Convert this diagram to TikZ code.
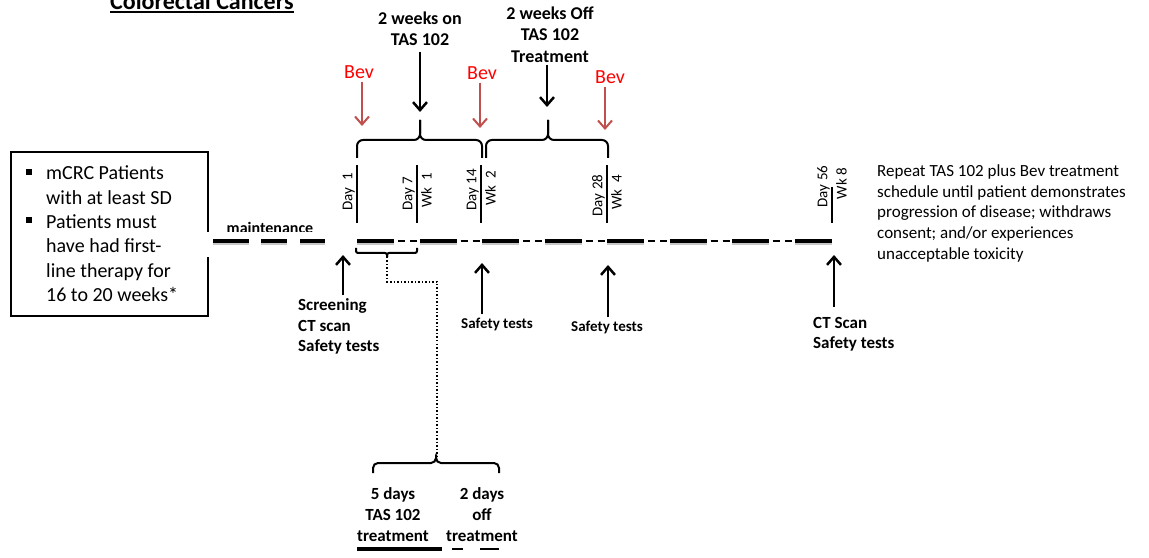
\documentclass[tikz,border=0pt]{standalone}
\usepackage{fontspec}
\setmainfont{Carlito}
\usetikzlibrary{arrows.meta}
\definecolor{bevtext}{HTML}{FF0000}
\definecolor{bevline}{HTML}{C0504D}
\newcommand\fsz[2]{\fontsize{#1bp}{#2bp}\selectfont}
\begin{document}
\begin{tikzpicture}[x=1bp,y=-1bp,
    lbl/.style={font=\bfseries\fsz{17}{20.5}, align=center, inner sep=0pt},
    toplbl/.style={font=\bfseries\fsz{18}{21.5}, align=center, inner sep=0pt},
    bevlbl/.style={font=\fsz{20}{24}, text=bevtext, inner sep=0pt},
    daylbl/.style={font=\fsz{15}{18}, rotate=90, inner sep=0pt},
    boxtxt/.style={font=\fsz{20}{24.4}, align=left, inner sep=0pt, anchor=west},
    bulletsq/.style={fill=black, minimum size=6bp, inner sep=0pt},
    blkarrow/.style={-{Straight Barb[length=8bp,width=14bp]}, line width=2.5bp},
    bevarrow/.style={-{Straight Barb[length=8bp,width=14bp]}, line width=2bp, draw=bevline},
    tlbrace/.style={line width=2bp, rounded corners=6bp},
    daytick/.style={line width=2bp},
    seg/.style={line width=4bp},
    segshadow/.style={line width=3bp, black!22},
    dsh/.style={line width=2.5bp},
  ]
  \useasboundingbox (0,0) rectangle (1149,558);

  % Title, cut by the page edge
  \node[font=\bfseries\fsz{24}{28}, anchor=base west, inner sep=0pt] (title) at (110,10) {Colorectal Cancers};
  \draw[line width=2bp] ([yshift=-2.5bp]title.base west) -- ([yshift=-2.5bp]title.base east);

  % Eligibility box
  \node[draw, line width=2bp, minimum width=197bp, minimum height=164bp, inner sep=0pt] (crit) at (109.5,234) {};
  \node[bulletsq] (sq1) at (28.5,172) {};
  \node[boxtxt] (c1) at (46,185) {mCRC Patients\\with at least SD};
  \node[bulletsq] (sq2) at (28.5,220) {};
  \node[boxtxt] (c2) at (46,258) {Patients must\\have had first-\\line therapy for\\16 to 20 weeks*};

  % Maintenance
  \node[font=\bfseries\fsz{16}{19}, inner sep=0pt] (maint) at (270,228) {maintenance};
  \fill[white] (205,232.5) rectangle (336,257);
  \foreach \a/\b in {213/249, 261/287, 300/325} {
      \draw[segshadow] (\a,244) -- (\b,244);
      \draw[seg] (\a,241) -- (\b,241);
    }

  % Timeline
  \foreach \k in {0,...,7} {
      \pgfmathsetmacro\xs{357+62.5*\k}
      \draw[segshadow] (\xs,244) -- ++(37,0);
      \draw[seg] (\xs,241) -- ++(37,0);
    }
  \foreach \k in {0,...,6} {
      \pgfmathsetmacro\xs{357+62.5*\k}
      \draw[dsh] (\xs+41,241) -- (\xs+48,241);
      \draw[dsh] (\xs+53,241) -- (\xs+60,241);
    }

  % Day ticks
  \foreach \x/\t in {357/165, 417/165, 481/165, 607/165, 832/187}
  \draw[daytick] (\x,\t) -- (\x,223);
  \node[daylbl, anchor=south] (d1) at (355,192) {Day\ \ 1};
  \node[daylbl, anchor=south] (d7) at (415,194) {Day 7};
  \node[daylbl, anchor=north] (w1) at (421,190.5) {Wk\ \ 1};
  \node[daylbl, anchor=south] (d14) at (479,190) {Day 14};
  \node[daylbl, anchor=north] (w2) at (485,188.5) {Wk\ \ 2};
  \node[daylbl, anchor=south] (d28) at (605,195.5) {Day 28};
  \node[daylbl, anchor=north] (w4) at (611,192.5) {Wk\ \ 4};
  \node[daylbl, anchor=south] (d56) at (830,186.5) {Day 56};
  \node[daylbl, anchor=north] (w8) at (836,183.5) {Wk 8};

  % Braces over the cycle
  \draw[tlbrace] (357,158) -- (357,140) -- (420,140) -- (420,120);
  \draw[tlbrace] (482,158) -- (482,140) -- (420,140) -- (420,120);
  \draw[tlbrace] (486,158) -- (486,140) -- (548,140) -- (548,120);
  \draw[tlbrace] (608,158) -- (608,140) -- (548,140) -- (548,120);

  % Treatment labels
  \node[toplbl] (weekson) at (420,28.5) {2 weeks on\\TAS 102};
  \coordinate (weeksontip) at (420,112);
  \draw[blkarrow, shorten <=6bp] (weekson.south -| weeksontip) -- (weeksontip);
  \node[toplbl] (weeksoff) at (550,34.5) {2 weeks Off\\TAS 102\\Treatment};
  \coordinate (weeksofftip) at (547,107);
  \draw[blkarrow, shorten <=2bp] (weeksoff.south -| weeksofftip) -- (weeksofftip);

  % Bev doses
  \node[bevlbl] (bev1) at (359,72) {Bev};
  \coordinate (bev1tip) at (362,126);
  \draw[bevarrow, shorten <=3bp] (bev1.south -| bev1tip) -- (bev1tip);
  \node[bevlbl] (bev2) at (482,73) {Bev};
  \coordinate (bev2tip) at (480,128);
  \draw[bevarrow, shorten <=3bp] (bev2.south -| bev2tip) -- (bev2tip);
  \node[bevlbl] (bev3) at (610,77) {Bev};
  \coordinate (bev3tip) at (605,130);
  \draw[bevarrow, shorten <=3bp] (bev3.south -| bev3tip) -- (bev3tip);

  % Tests
  \node[lbl, align=left, anchor=west] (scr) at (298,326.5) {Screening\\CT scan\\Safety tests};
  \coordinate (scrtip) at (343,255);
  \draw[blkarrow, shorten <=3bp] (scr.north -| scrtip) -- (scrtip);
  \node[lbl, font=\bfseries\fsz{15}{18}] (st14) at (497,324) {Safety tests};
  \coordinate (st14tip) at (482,263);
  \draw[blkarrow, shorten <=3bp] (st14.north -| st14tip) -- (st14tip);
  \node[lbl, font=\bfseries\fsz{15}{18}] (st28) at (607,327) {Safety tests};
  \coordinate (st28tip) at (608,265);
  \draw[blkarrow, shorten <=3bp] (st28.north -| st28tip) -- (st28tip);
  \node[lbl, align=left, anchor=west] (ct) at (813,334.5) {CT Scan\\Safety tests};
  \coordinate (cttip) at (834,255);
  \draw[blkarrow, shorten <=10bp] (ct.north -| cttip) -- (cttip);

  % Repeat note
  \node[font=\fsz{17}{20.8}, align=left, anchor=west, inner sep=0pt] (repeat) at (877,213.4)
  {Repeat TAS 102 plus Bev treatment\\schedule until patient demonstrates\\progression of disease; withdraws\\consent; and/or experiences\\unacceptable toxicity};

  % Week detail
  \draw[line width=2bp, rounded corners=2bp] (356,248) -- (356,253) -- (387,253) -- (387,257);
  \draw[line width=2bp, rounded corners=2bp] (417,248) -- (417,253) -- (387,253) -- (387,257);
  \draw[line width=1.5bp, dash pattern=on 1.5bp off 2bp] (387,257) -- (387,282) -- (437,282) -- (437,459);
  \draw[tlbrace, rounded corners=5bp] (373,473) -- (373,463) -- (436,463) -- (436,458);
  \draw[tlbrace, rounded corners=5bp] (499,473) -- (499,463) -- (436,463) -- (436,458);
  \node[lbl, font=\bfseries\fsz{17}{21}] (fivedays) at (393,515) {5 days\\TAS 102\\treatment};
  \node[lbl, font=\bfseries\fsz{17}{21}] (twodays) at (482,515) {2 days\\off\\treatment};
  \draw[line width=3.5bp] (357,549) -- (442,549);
  \draw[dsh] (452,549) -- (463,549);
  \draw[dsh] (480,549) -- (499,549);
\end{tikzpicture}
\end{document}
